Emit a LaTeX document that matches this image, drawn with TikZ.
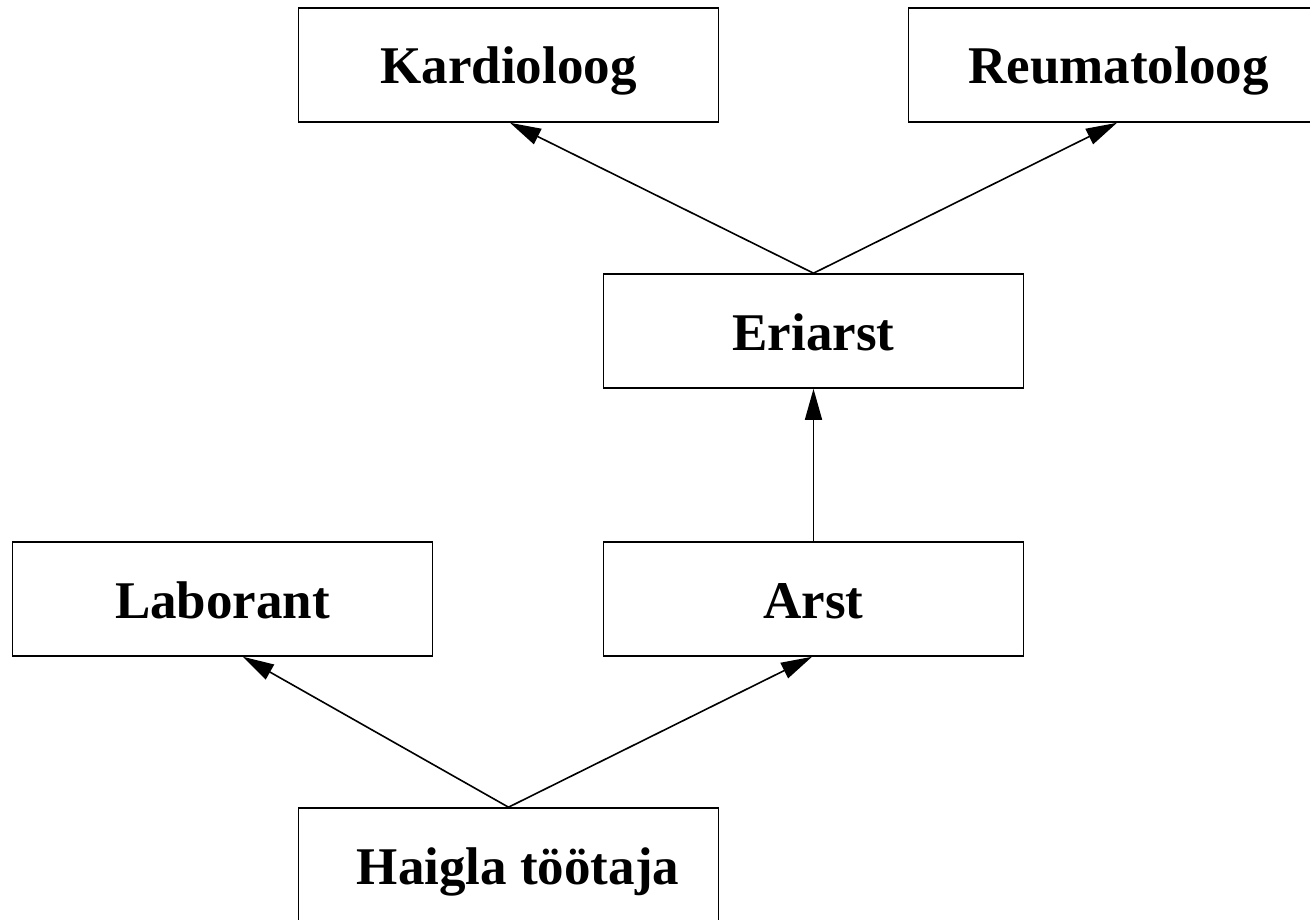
\documentclass[tikz,border=0pt]{standalone}
\usepackage{fontspec}
\setmainfont{Liberation Serif}
\usetikzlibrary{arrows.meta,calc}
\begin{document}
\begin{tikzpicture}[x=1pt,y=-1pt,
  lbl/.style={font=\fontsize{53}{60}\selectfont\bfseries},
  box/.style={draw,line width=1.6pt,minimum width=420pt,minimum height=114pt,inner sep=0pt,
    text height=38pt,text depth=0pt,lbl},
  link/.style={line width=1.6pt,-{Triangle[length=31pt,width=17pt]}}]
\clip (0,0) rectangle (1310,920);
\useasboundingbox (0,0) rectangle (1310,920);
\node[box] (K) at (508.5,65) {Kardioloog};
\node[box] (R) at (1118.5,65) {Reumatoloog};
\node[box] (E) at (813.5,331) {Eriarst};
\node[box] (L) at (222.5,599) {Laborant};
\node[box] (A) at (813.5,599) {Arst};
\node[box] (H) at (508.5,865) {};
\node[lbl,text height=38pt,text depth=0pt,inner sep=0pt] (Ht) at (518,865) {Haigla töötaja};
\draw[link] (E.north) -- ($(K.south)+(1.5,0)$);
\draw[link] (E.north) -- ($(R.south)+(-1.5,0)$);
\draw[link] (A.north) -- (E.south);
\draw[link] (H.north) -- ($(L.south)+(20.5,0)$);
\draw[link] (H.north) -- ($(A.south)+(-1.5,0)$);
\end{tikzpicture}
\end{document}
